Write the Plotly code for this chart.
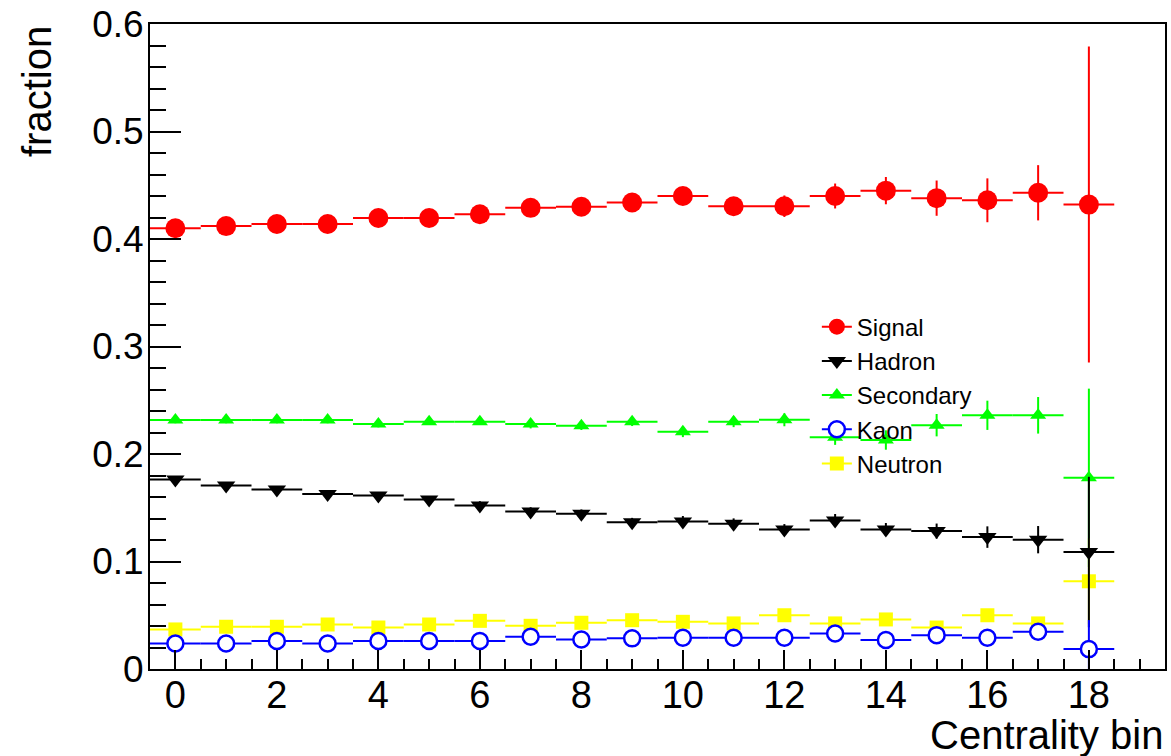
import plotly.graph_objects as go

bins = list(range(19))

signal = [0.410, 0.412, 0.414, 0.414, 0.4195, 0.4195, 0.423, 0.429, 0.430, 0.434,
          0.440, 0.4305, 0.4305, 0.440, 0.445, 0.438, 0.436, 0.443, 0.432]
signal_err = [0.004, 0.004, 0.004, 0.004, 0.005, 0.005, 0.005, 0.006, 0.006, 0.007,
              0.007, 0.008, 0.010, 0.0116, 0.0127, 0.0164, 0.0204, 0.0257, 0.147]

hadron = [0.1762, 0.1706, 0.1669, 0.1629, 0.1614, 0.1577, 0.1521, 0.1465, 0.1444, 0.1366,
          0.1373, 0.1351, 0.1298, 0.1382, 0.1298, 0.1283, 0.1227, 0.1203, 0.1088]
hadron_err = [0.003, 0.003, 0.003, 0.003, 0.003, 0.003, 0.004, 0.004, 0.004, 0.004,
              0.005, 0.005, 0.005, 0.006, 0.006, 0.007, 0.010, 0.0127, 0.070]

secondary = [0.2316, 0.2316, 0.2316, 0.2316, 0.2278, 0.2300, 0.2300, 0.2278, 0.2263, 0.2300,
             0.2207, 0.2300, 0.2318, 0.2155, 0.2130, 0.2268, 0.2360, 0.2360, 0.1778]
secondary_err = [0.003, 0.003, 0.003, 0.003, 0.003, 0.003, 0.003, 0.004, 0.004, 0.004,
                 0.005, 0.005, 0.006, 0.007, 0.009, 0.0104, 0.0136, 0.017, 0.083]

kaon = [0.0238, 0.0238, 0.0260, 0.0238, 0.0260, 0.0260, 0.0260, 0.0300, 0.0275, 0.0285,
        0.0290, 0.0290, 0.0290, 0.0330, 0.0269, 0.0315, 0.0290, 0.0346, 0.0185]
kaon_err = [0.001, 0.001, 0.001, 0.001, 0.001, 0.001, 0.001, 0.002, 0.002, 0.002,
            0.002, 0.002, 0.002, 0.003, 0.003, 0.003, 0.004, 0.005, 0.027]

neutron = [0.0368, 0.0393, 0.0393, 0.0414, 0.0386, 0.0414, 0.0448, 0.0402, 0.0430, 0.0454,
           0.0439, 0.0424, 0.0500, 0.0424, 0.0461, 0.0386, 0.0500, 0.0424, 0.0816]
neutron_err = [0.001, 0.001, 0.001, 0.001, 0.001, 0.001, 0.001, 0.002, 0.002, 0.002,
               0.002, 0.002, 0.003, 0.003, 0.003, 0.004, 0.004, 0.005, 0.040]

bin_half_width = 0.5

FONT = "Liberation Sans, Arial, Helvetica, sans-serif"

# (name, y, err, color, symbol, size, fill, legend rank) in drawing order
series = [
    ("Signal", signal, signal_err, "#ff0000", "circle", 20, "#ff0000", 1),
    ("Secondary", secondary, secondary_err, "#00ff00", "triangle-up", 14, "#00ff00", 3),
    ("Neutron", neutron, neutron_err, "#ffff00", "square", 14, "#ffff00", 5),
    ("Hadron", hadron, hadron_err, "#000000", "triangle-down", 16, "#000000", 2),
    ("Kaon", kaon, kaon_err, "#0000ff", "circle", 16, "#ffffff", 4),
]

fig = go.Figure()
for name, y, err, color, symbol, size, fill, rank in series:
    lw = 2.5 if fill == "#ffffff" else 0
    fig.add_trace(go.Scatter(
        x=bins, y=y, mode="markers", name=name, showlegend=False,
        marker=dict(symbol=symbol, size=size, color=fill,
                    line=dict(color=color, width=lw)),
        error_x=dict(type="constant", value=bin_half_width, color=color,
                     thickness=2, width=0),
        error_y=dict(type="data", array=err, color=color, thickness=2, width=0),
    ))
    # legend entry (marker with a short line through it, ROOT style)
    fig.add_trace(go.Scatter(
        x=[None], y=[None], mode="lines+markers", name=name, legendrank=rank,
        line=dict(color=color, width=2),
        marker=dict(symbol=symbol, size=size, color=fill,
                    line=dict(color=color, width=lw)),
    ))

fig.update_layout(
    width=1171, height=756,
    margin=dict(l=150, r=4, t=22, b=87),
    paper_bgcolor="white", plot_bgcolor="white",
    font=dict(family=FONT, color="black"),
    showlegend=True,
    legend=dict(x=0.657, y=0.565, xanchor="left", yanchor="top",
                bgcolor="rgba(0,0,0,0)", borderwidth=0,
                font=dict(family=FONT, size=24, color="black"),
                itemsizing="trace"),
    xaxis=dict(range=[-0.5, 19.5], showgrid=False, zeroline=False,
               showline=True, linecolor="black", linewidth=2, mirror=True,
               ticks="inside", ticklen=19, tickwidth=2, tickcolor="black",
               tick0=0, dtick=2, ticklabelstandoff=-9,
               minor=dict(ticks="inside", ticklen=10, tickwidth=2,
                          tickcolor="black", dtick=0.5, tick0=0, showgrid=False),
               tickfont=dict(family=FONT, size=38, color="black")),
    yaxis=dict(range=[0, 0.6], showgrid=False, zeroline=False,
               showline=True, linecolor="black", linewidth=2, mirror=True,
               ticks="inside", ticklen=31, tickwidth=2, tickcolor="black",
               tick0=0, dtick=0.1, tickformat="~g", ticklabelstandoff=-3,
               minor=dict(ticks="inside", ticklen=16, tickwidth=2,
                          tickcolor="black", dtick=0.02, tick0=0, showgrid=False),
               tickfont=dict(family=FONT, size=37, color="black")),
    annotations=[
        dict(text="Centrality bin", xref="paper", yref="paper", x=1.0, y=-0.102,
             xanchor="right", yanchor="middle", showarrow=False,
             font=dict(family=FONT, size=40, color="black")),
        dict(text="fraction", xref="paper", yref="paper", x=-0.112, y=0.895,
             xanchor="center", yanchor="middle", textangle=-90, showarrow=False,
             font=dict(family=FONT, size=40, color="black")),
    ],
)

fig.write_html("out.html")
